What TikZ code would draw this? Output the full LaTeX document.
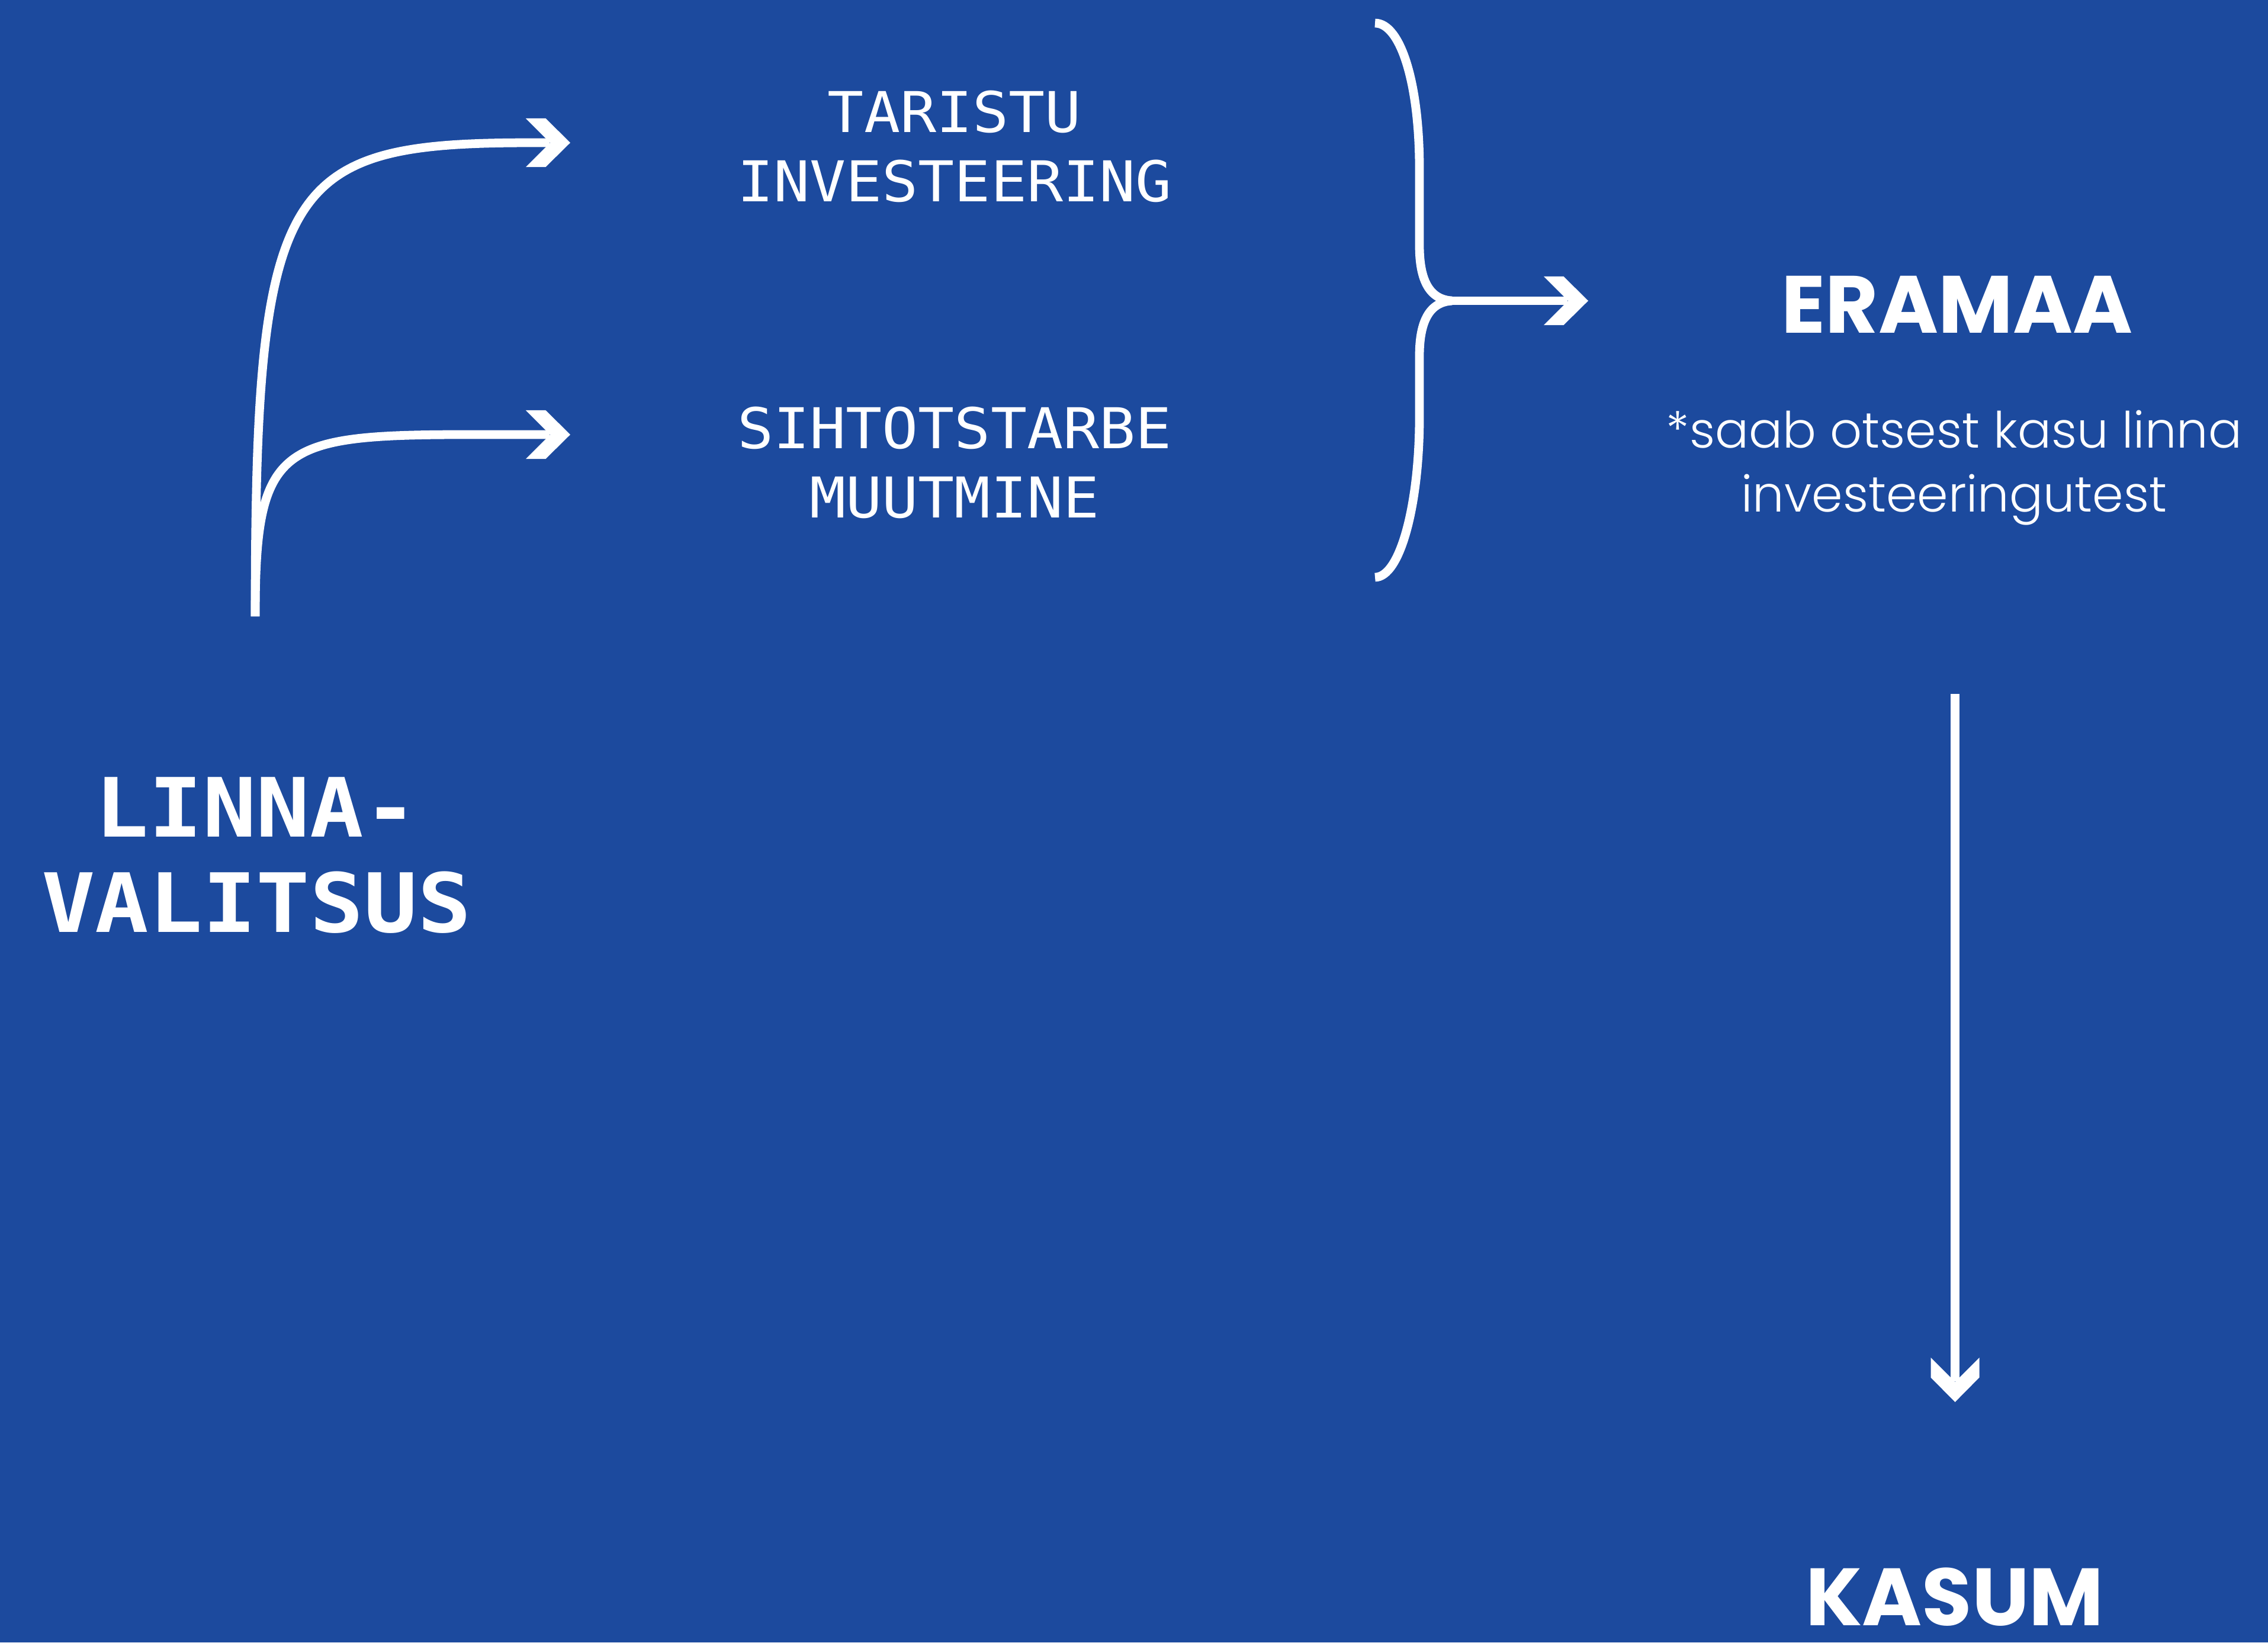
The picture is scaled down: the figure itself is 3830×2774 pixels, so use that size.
\documentclass[tikz,border=0pt]{standalone}
\usepackage{fontspec}
\usetikzlibrary{arrows.meta}
\newfontfamily\monoreg[FakeStretch=1.07]{DejaVu Sans Mono}
\newfontfamily\monobold[FakeStretch=1.09]{DejaVu Sans Mono Bold}
\newfontfamily\popfam{Poppins}
\newfontfamily\poplight{Poppins Light}
\definecolor{bgblue}{RGB}{28,74,158}
\pgfdeclarearrow{
  name=Chev,
  setup code={
    \pgfarrowssettipend{0pt}
    \pgfarrowssetlineend{-10pt}
    \pgfarrowssetbackend{-21.34pt}
    \pgfarrowsupperhullpoint{-21.34pt}{11.67pt}
    \pgfarrowsupperhullpoint{0pt}{0pt}
  },
  drawing code={
    \pgfpathmoveto{\pgfqpoint{0pt}{0pt}}
    \pgfpathlineto{\pgfqpoint{-11.81pt}{11.67pt}}
    \pgfpathlineto{\pgfqpoint{-21.34pt}{11.67pt}}
    \pgfpathlineto{\pgfqpoint{-9.67pt}{0pt}}
    \pgfpathlineto{\pgfqpoint{-21.34pt}{-11.67pt}}
    \pgfpathlineto{\pgfqpoint{-11.81pt}{-11.67pt}}
    \pgfpathclose
    \pgfusepathqfill
  }
}
\tikzset{
  link/.style={white, line width=4.2pt, -Chev},
  bracepath/.style={white, line width=4.2pt},
  monotxt/.style={text=white, inner sep=0pt, anchor=north, align=center,
    font=\monoreg\fontsize{27}{33.3}\selectfont},
  govtxt/.style={text=white, inner sep=0pt, anchor=north, align=center,
    font=\monobold\fontsize{39.3}{45.8}\selectfont},
  bigtxt/.style={text=white, inner sep=0pt, anchor=north, align=center,
    font=\popfam\bfseries\fontsize{39}{47}\selectfont},
  notetxt/.style={text=white, inner sep=0pt, anchor=north, align=center,
    font=\poplight\fontsize{24}{30.7}\selectfont}
}
\begin{document}
\begin{tikzpicture}[x=0.01cm,y=-0.01cm]
\fill[bgblue] (0,0) rectangle (3830,2774);
\useasboundingbox (0,0) rectangle (3830,2774);

% text nodes
\node[monotxt] (tar) at (1612,152) {TARISTU\\INVESTEERING};
\node[monotxt] (siht) at (1612,686) {SIHTOTSTARBE\\MUUTMINE};
\node[govtxt] (gov) at (433,1312) {LINNA-\\VALITSUS};
\node[bigtxt] (era) at (3305,465) {ERAMAA};
\node[notetxt] (note) at (3300,692) {*saab otsest kasu linna\\investeeringutest};
\node[bigtxt] (kasum) at (3301,2647) {KASUM};

% coordinates
\coordinate (stem) at (431,1041);
\coordinate (tipT) at (963,241);
\coordinate (tipS) at (963,734);
\coordinate (brTop) at (2322,39);
\coordinate (brBot) at (2322,975);
\coordinate (brMid) at (2452,508);
\coordinate (tipE) at (2682,508);
\coordinate (downStart) at (3301.5,1172);
\coordinate (tipK) at (3301.5,2368);

% branching arrows from the city government
\draw[link] (stem) .. controls (431,300) and (480,241) .. (900,241) -- (tipT);
\draw[link] (stem) .. controls (431,720) and (480,734) .. (900,734) -- (tipS);

% brace
\draw[bracepath] (brTop) .. controls (2365,39) and (2397,140) .. (2397,285)
  -- (2397,415) .. controls (2397,475) and (2415,506) .. (brMid);
\draw[bracepath] (brMid) .. controls (2415,510) and (2397,541) .. (2397,601)
  -- (2397,705) .. controls (2397,850) and (2365,975) .. (brBot);
\draw[link] (brMid) -- (tipE);

% down arrow
\draw[link] (downStart) -- (tipK);
\end{tikzpicture}
\end{document}
